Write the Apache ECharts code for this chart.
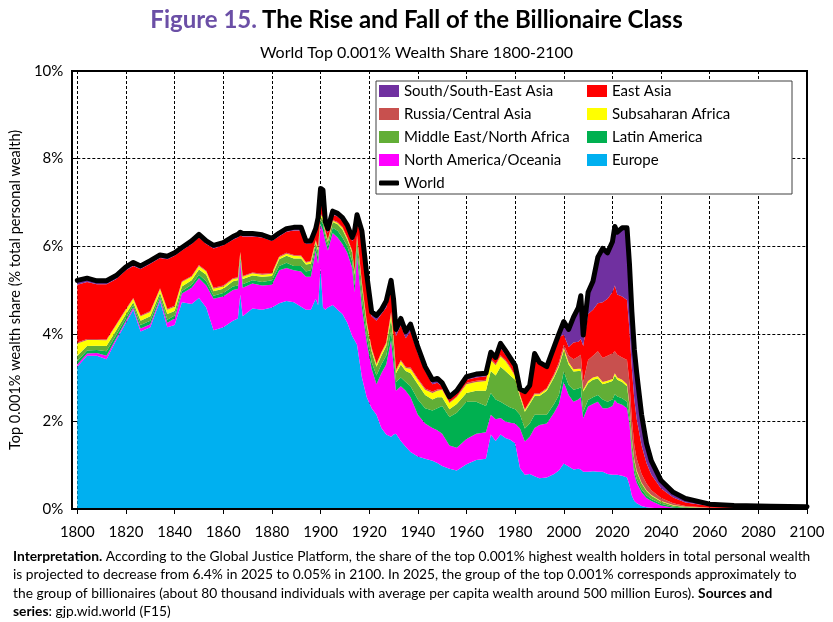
<!DOCTYPE html>
<html>
<head>
<meta charset="utf-8">
<script src="https://cdn.jsdelivr.net/npm/echarts@6/dist/echarts.min.js"></script>
<style>
  html, body { margin: 0; padding: 0; background: #fff; }
  #chart { width: 833px; height: 622px; }
</style>
</head>
<body>
<div id="chart"></div>
<script>
// years (irregular, denser where the curves move)
var years = [1800,1804,1808,1812,1816,1820,1823,1826,1830,1834,
  1837,1840,1843,1847,1850,1853,1856,1860,1864,1866,
  1867,1868,1872,1876,1880,1883,1886,1889,1892,1894,
  1896,1898,1899,1900,1901,1902,1903,1905,1907,1909,
  1911,1913,1914,1915,1917,1919,1921,1923,1925,1927,
  1929,1930,1931,1933,1935,1937,1940,1943,1946,1948,
  1950,1953,1956,1960,1964,1968,1970,1972,1974,1976,
  1978,1980,1982,1984,1986,1988,1990,1993,1996,1998,
  2000,2002,2004,2006,2007,2008,2010,2012,2014,2016,
  2018,2020,2021,2022,2024,2026,2027,2028,2029,2030,
  2032,2034,2036,2040,2045,2050,2060,2070,2085,2100];

// regional shares, % of total personal wealth
var europe = [3.25,3.50,3.50,3.42,3.85,4.25,4.55,4.05,4.15,4.75,
  4.15,4.20,4.72,4.68,4.82,4.60,4.08,4.15,4.30,4.35,
  4.90,4.40,4.58,4.55,4.60,4.70,4.75,4.72,4.62,4.55,
  4.55,4.80,4.65,5.50,4.60,4.55,4.60,4.66,4.55,4.45,
  4.25,3.95,3.85,3.75,3.00,2.55,2.30,2.15,1.85,1.70,
  1.65,1.70,1.72,1.55,1.42,1.30,1.20,1.15,1.10,1.05,
  0.98,0.92,0.88,1.02,1.12,1.15,1.70,1.55,1.70,1.62,
  1.58,1.50,0.93,0.78,0.80,0.75,0.70,0.72,0.80,0.88,
  1.04,0.97,0.90,0.92,0.90,0.85,0.85,0.86,0.85,0.85,
  0.80,0.78,0.78,0.78,0.76,0.72,0.55,0.30,0.18,0.13,
  0.07,0.04,0.03,0.01,0,0,0,0,0,0];
var northAmerica = [.05,.05,.06,.08,.05,.05,.05,.07,.07,.05,
  .10,.15,.20,.37,.45,.50,.72,.70,.70,.67,
  .75,.65,.57,.55,.52,.75,.75,.73,.80,.75,
  .75,1.10,.95,1.00,1.75,1.55,1.30,1.64,1.65,1.60,
  1.60,1.55,1.10,2.05,1.60,1.25,.90,.70,1.25,1.60,
  2.20,1.60,.98,1.25,1.28,1.25,.95,.80,.75,.75,
  .74,.53,.52,.58,.60,.60,.45,.50,.38,.38,
  .39,.45,.91,.76,.85,1.10,1.22,1.23,1.40,1.52,
  1.86,1.63,1.55,1.58,1.65,1.22,1.49,1.54,1.60,1.45,
  1.50,1.57,1.71,1.64,1.62,1.58,1.40,.95,.62,.47,
  .31,.21,.15,.07,.03,.015,.005,0,0,0];
var latinAmerica = [.08,.07,.07,.10,.08,.06,.05,.08,.08,.06,
  .07,.07,.06,.07,.08,.10,.07,.08,.08,.08,
  .07,.08,.07,.08,.10,.10,.12,.10,.13,.12,
  .15,.10,.15,.10,.15,.10,.10,.12,.15,.15,
  .15,.15,.15,.18,.20,.15,.15,.20,.20,.20,
  .20,.25,.20,.20,.20,.25,.35,.35,.40,.50,
  .63,.65,.80,.85,.73,.60,.50,.45,.37,.38,
  .35,.33,.31,.30,.30,.30,.23,.20,.20,.20,
  .24,.23,.27,.25,.23,.15,.15,.15,.15,.20,
  .15,.15,.13,.15,.15,.15,.12,.10,.10,.08,
  .07,.06,.05,.04,.02,.015,.005,.005,0,0];
var mena = [.12,.10,.10,.12,.10,.09,.07,.10,.10,.08,
  .13,.10,.10,.10,.12,.15,.10,.10,.12,.12,
  .08,.12,.11,.12,.10,.15,.16,.17,.17,.16,
  .15,.08,.15,.08,.10,.10,.10,.13,.15,.18,
  .15,.20,.25,.22,.30,.25,.25,.20,.20,.22,
  .30,.30,.20,.30,.25,.30,.35,.30,.25,.25,
  .20,.18,.20,.20,.25,.35,.50,.55,.80,.77,
  .73,.67,.41,.38,.45,.43,.43,.55,.60,.65,
  .48,.47,.42,.40,.37,.46,.38,.40,.38,.35,
  .43,.42,.43,.38,.37,.35,.30,.25,.20,.17,
  .13,.10,.07,.05,.03,.015,.005,.005,.005,0];
var subsaharan = [.28,.14,.13,.13,.12,.10,.08,.10,.10,.08,
  .10,.10,.10,.08,.08,.07,.06,.05,.05,.05,
  .05,.05,.05,.05,.05,.05,.05,.06,.05,.04,
  .05,.04,.05,.04,.05,.03,.03,.03,.03,.04,
  .03,.03,.05,.04,.05,.05,.05,.05,.06,.06,
  .10,.07,.05,.08,.07,.10,.10,.12,.15,.15,
  .17,.14,.15,.20,.20,.22,.25,.23,.23,.23,
  .17,.08,.04,.04,.04,.04,.04,.04,.04,.04,
  .05,.05,.05,.05,.05,.04,.05,.05,.05,.05,
  .05,.05,.05,.05,.05,.05,.04,.03,.03,.03,
  .02,.02,.02,.01,.01,.005,.005,0,0,.005];
var russia = [.02,.02,.02,.02,.02,.02,.02,.02,.02,.02,
  .02,.02,.02,.02,.02,.02,.02,.02,.02,.02,
  .02,.02,.02,.02,.02,.02,.02,.02,.02,.02,
  .02,.02,.02,.02,.02,.02,.02,.02,.02,.02,
  .02,.02,.02,.02,.03,.03,.03,.02,.02,.02,
  .05,.03,.03,.02,.03,.03,.03,.03,.03,.03,
  .02,.02,.02,.03,.03,.03,.03,.03,.03,.03,
  .03,.02,.02,.02,.02,.02,.02,.02,.04,.06,
  .08,.15,.23,.28,.32,.18,.48,.50,.57,.55,
  .57,.58,.50,.52,.51,.55,.49,.42,.32,.27,
  .20,.15,.11,.07,.04,.02,.01,.01,.005,.005];
var eastAsia = [1.32,1.30,1.25,1.26,1.03,.88,.73,1.06,1.08,.69,
  1.13,1.14,.70,.73,.63,.61,.90,.92,.88,.91,
  .38,.90,.82,.83,.73,.46,.48,.56,.57,.41,
  .39,.18,.58,.41,.43,.10,.15,.12,.13,.14,
  .20,.22,.78,.29,1.02,.92,.72,.98,.87,.80,
  .50,.65,.77,.80,.65,.82,.57,.40,.17,.15,
  .06,.06,.06,.07,.07,.08,.09,.09,.17,.11,
  .13,.13,.06,.35,.31,.86,.66,.44,.57,.57,
  .23,.20,.38,.34,.36,.82,1.05,1.05,1.10,1.27,
  1.30,1.40,1.50,1.38,1.39,1.37,1.20,1.15,1.05,.90,
  .65,.47,.35,.22,.13,.08,.04,.025,.02,.015];
var southAsia = [.10,.09,.08,.08,.08,.08,.08,.07,.07,.07,
  .07,.07,.07,.07,.07,.07,.07,.06,.07,.07,
  .07,.07,.07,.06,.06,.07,.07,.07,.07,.07,
  .06,.08,.10,.17,.18,.10,.10,.08,.07,.07,
  .08,.08,.15,.17,.15,.15,.10,.12,.10,.15,
  .22,.20,.15,.15,.15,.17,.15,.10,.10,.10,
  .08,.06,.07,.07,.08,.07,.06,.06,.10,.10,
  .07,.10,.06,.05,.05,.05,.05,.05,.05,.08,
  .30,.40,.58,.78,.99,.25,.50,.65,1.05,1.23,
  1.05,1.15,1.35,1.42,1.57,1.65,1.50,1.30,1.15,1.05,
  .70,.45,.32,.18,.12,.09,.04,.035,.03,.025];

// axis: one category per year, labelled every 20 years
var firstYear = 1800, lastYear = 2100, labelStep = 20;
var yTicks = { min: 0, max: 10, step: 2 };
var axisYears = [];
for (var y = firstYear; y <= lastYear; y++) axisYears.push(String(y));

// stacking order, bottom first
var regions = [
  { name: 'Europe', values: europe, color: '#00B0F0' },
  { name: 'North America/Oceania', values: northAmerica, color: '#FF00FF' },
  { name: 'Latin America', values: latinAmerica, color: '#00B050' },
  { name: 'Middle East/North Africa', values: mena, color: '#62AE36' },
  { name: 'Subsaharan Africa', values: subsaharan, color: '#FFFF00' },
  { name: 'Russia/Central Asia', values: russia, color: '#C8504E' },
  { name: 'East Asia', values: eastAsia, color: '#FF0000' },
  { name: 'South/South-East Asia', values: southAsia, color: '#7030A0' }
];

// world = sum of the regions
var world = years.map(function(yr, i) {
  var s = 0;
  regions.forEach(function(r) { s += r.values[i]; });
  return [String(yr), Math.round(s * 1000) / 1000];
});

var font = 'Lato';
var grid = { left: 72, right: 26, top: 71, bottom: 113 };
var everyTwenty = function(idx, val) { return (+val - firstYear) % labelStep === 0; };

var series = regions.map(function(r) {
  return {
    name: r.name,
    type: 'line',
    stack: 'total',
    symbol: 'none',
    showSymbol: false,
    color: r.color,
    itemStyle: { color: r.color },
    lineStyle: { width: 0 },
    areaStyle: { color: r.color, opacity: 1 },
    data: years.map(function(yr, i) { return [String(yr), r.values[i]]; })
  };
});
series.push({
  name: 'World',
  type: 'line',
  symbol: 'none',
  showSymbol: false,
  color: '#000',
  z: 4,
  lineStyle: { color: '#000', width: 5, join: 'round', cap: 'round' },
  data: world
});

var legendText = { color: '#000', fontFamily: font, fontSize: 15, lineHeight: 16 };

var chart = echarts.init(document.getElementById('chart'), null, { renderer: 'canvas' });
chart.setOption({
  animation: false,
  backgroundColor: '#fff',
  title: {
    text: '{a|Figure 15.} {b|The Rise and Fall of the Billionaire Class}',
    left: 'center',
    top: 3,
    itemGap: 13,
    textStyle: {
      rich: {
        a: { color: '#6B4FA6', fontFamily: font, fontSize: 24, fontWeight: 'bold' },
        b: { color: '#000', fontFamily: font, fontSize: 24, fontWeight: 'bold' }
      }
    },
    subtext: 'World Top 0.001% Wealth Share 1800-2100',
    subtextStyle: { color: '#000', fontFamily: font, fontSize: 16 }
  },
  grid: grid,
  legend: [
    {
      data: ['South/South-East Asia', 'Russia/Central Asia', 'Middle East/North Africa', 'North America/Oceania'],
      orient: 'vertical', left: 379, top: 83, padding: 0, icon: 'rect',
      itemWidth: 20, itemHeight: 12, itemGap: 7, selectedMode: false,
      textStyle: legendText, z: 6
    },
    {
      data: ['East Asia', 'Subsaharan Africa', 'Latin America', 'Europe'],
      orient: 'vertical', left: 587, top: 83, padding: 0, icon: 'rect',
      itemWidth: 20, itemHeight: 12, itemGap: 7, selectedMode: false,
      textStyle: legendText, z: 6
    },
    {
      data: ['World'],
      orient: 'vertical', left: 379, top: 175, padding: 0, icon: 'roundRect',
      itemWidth: 20, itemHeight: 5, selectedMode: false,
      textStyle: legendText, z: 6
    }
  ],
  xAxis: {
    type: 'category',
    data: axisYears,
    boundaryGap: false,
    axisLine: { show: false },
    axisTick: { show: true, length: 5, interval: everyTwenty, lineStyle: { color: '#000', width: 1 } },
    axisLabel: { color: '#000', fontFamily: font, fontSize: 15, margin: 16, interval: everyTwenty },
    splitLine: { show: true, interval: everyTwenty, lineStyle: { color: '#000', type: [3, 2], width: 1 } }
  },
  yAxis: {
    type: 'value',
    min: yTicks.min, max: yTicks.max, interval: yTicks.step,
    name: 'Top 0.001% wealth share (% total personal wealth)',
    nameLocation: 'middle',
    nameGap: 48,
    nameTextStyle: { color: '#000', fontFamily: font, fontSize: 14.5 },
    axisLine: { show: false },
    axisTick: { show: true, length: 5, lineStyle: { color: '#000', width: 1 } },
    axisLabel: { color: '#000', fontFamily: font, fontSize: 15, margin: 14, formatter: '{value}%' },
    splitLine: { show: true, lineStyle: { color: '#000', type: [3, 2], width: 1 } }
  },
  graphic: [
    {
      type: 'rect', z: 5,
      shape: { x: grid.left, y: grid.top, width: 833 - grid.left - grid.right, height: 622 - grid.top - grid.bottom },
      style: { fill: 'none', stroke: '#000', lineWidth: 2 }
    },
    {
      type: 'rect', z: 5,
      shape: { x: 376, y: 81, width: 416, height: 113 },
      style: { fill: '#fff', stroke: '#404040', lineWidth: 1 }
    },
    {
      type: 'text', left: 13, top: 547, z: 5,
      style: {
        text: '{b|Interpretation.} According to the Global Justice Platform, the share of the top 0.001% highest wealth holders in total personal wealth\n' +
          'is projected to decrease from 6.4% in 2025 to 0.05% in 2100. In 2025, the group of the top 0.001% corresponds approximately to\n' +
          'the group of billionaires (about 80 thousand individuals with average per capita wealth around 500 million Euros). {b|Sources and}\n' +
          '{b|series}: gjp.wid.world (F15)',
        fill: '#000',
        font: '13.8px Lato',
        lineHeight: 18.5,
        rich: {
          b: { fontFamily: font, fontSize: 13.8, fontWeight: 'bold', fill: '#000', lineHeight: 18.5 }
        }
      }
    }
  ],
  series: series
});
window.addEventListener('resize', function() { chart.resize(); });
</script>
</body>
</html>
